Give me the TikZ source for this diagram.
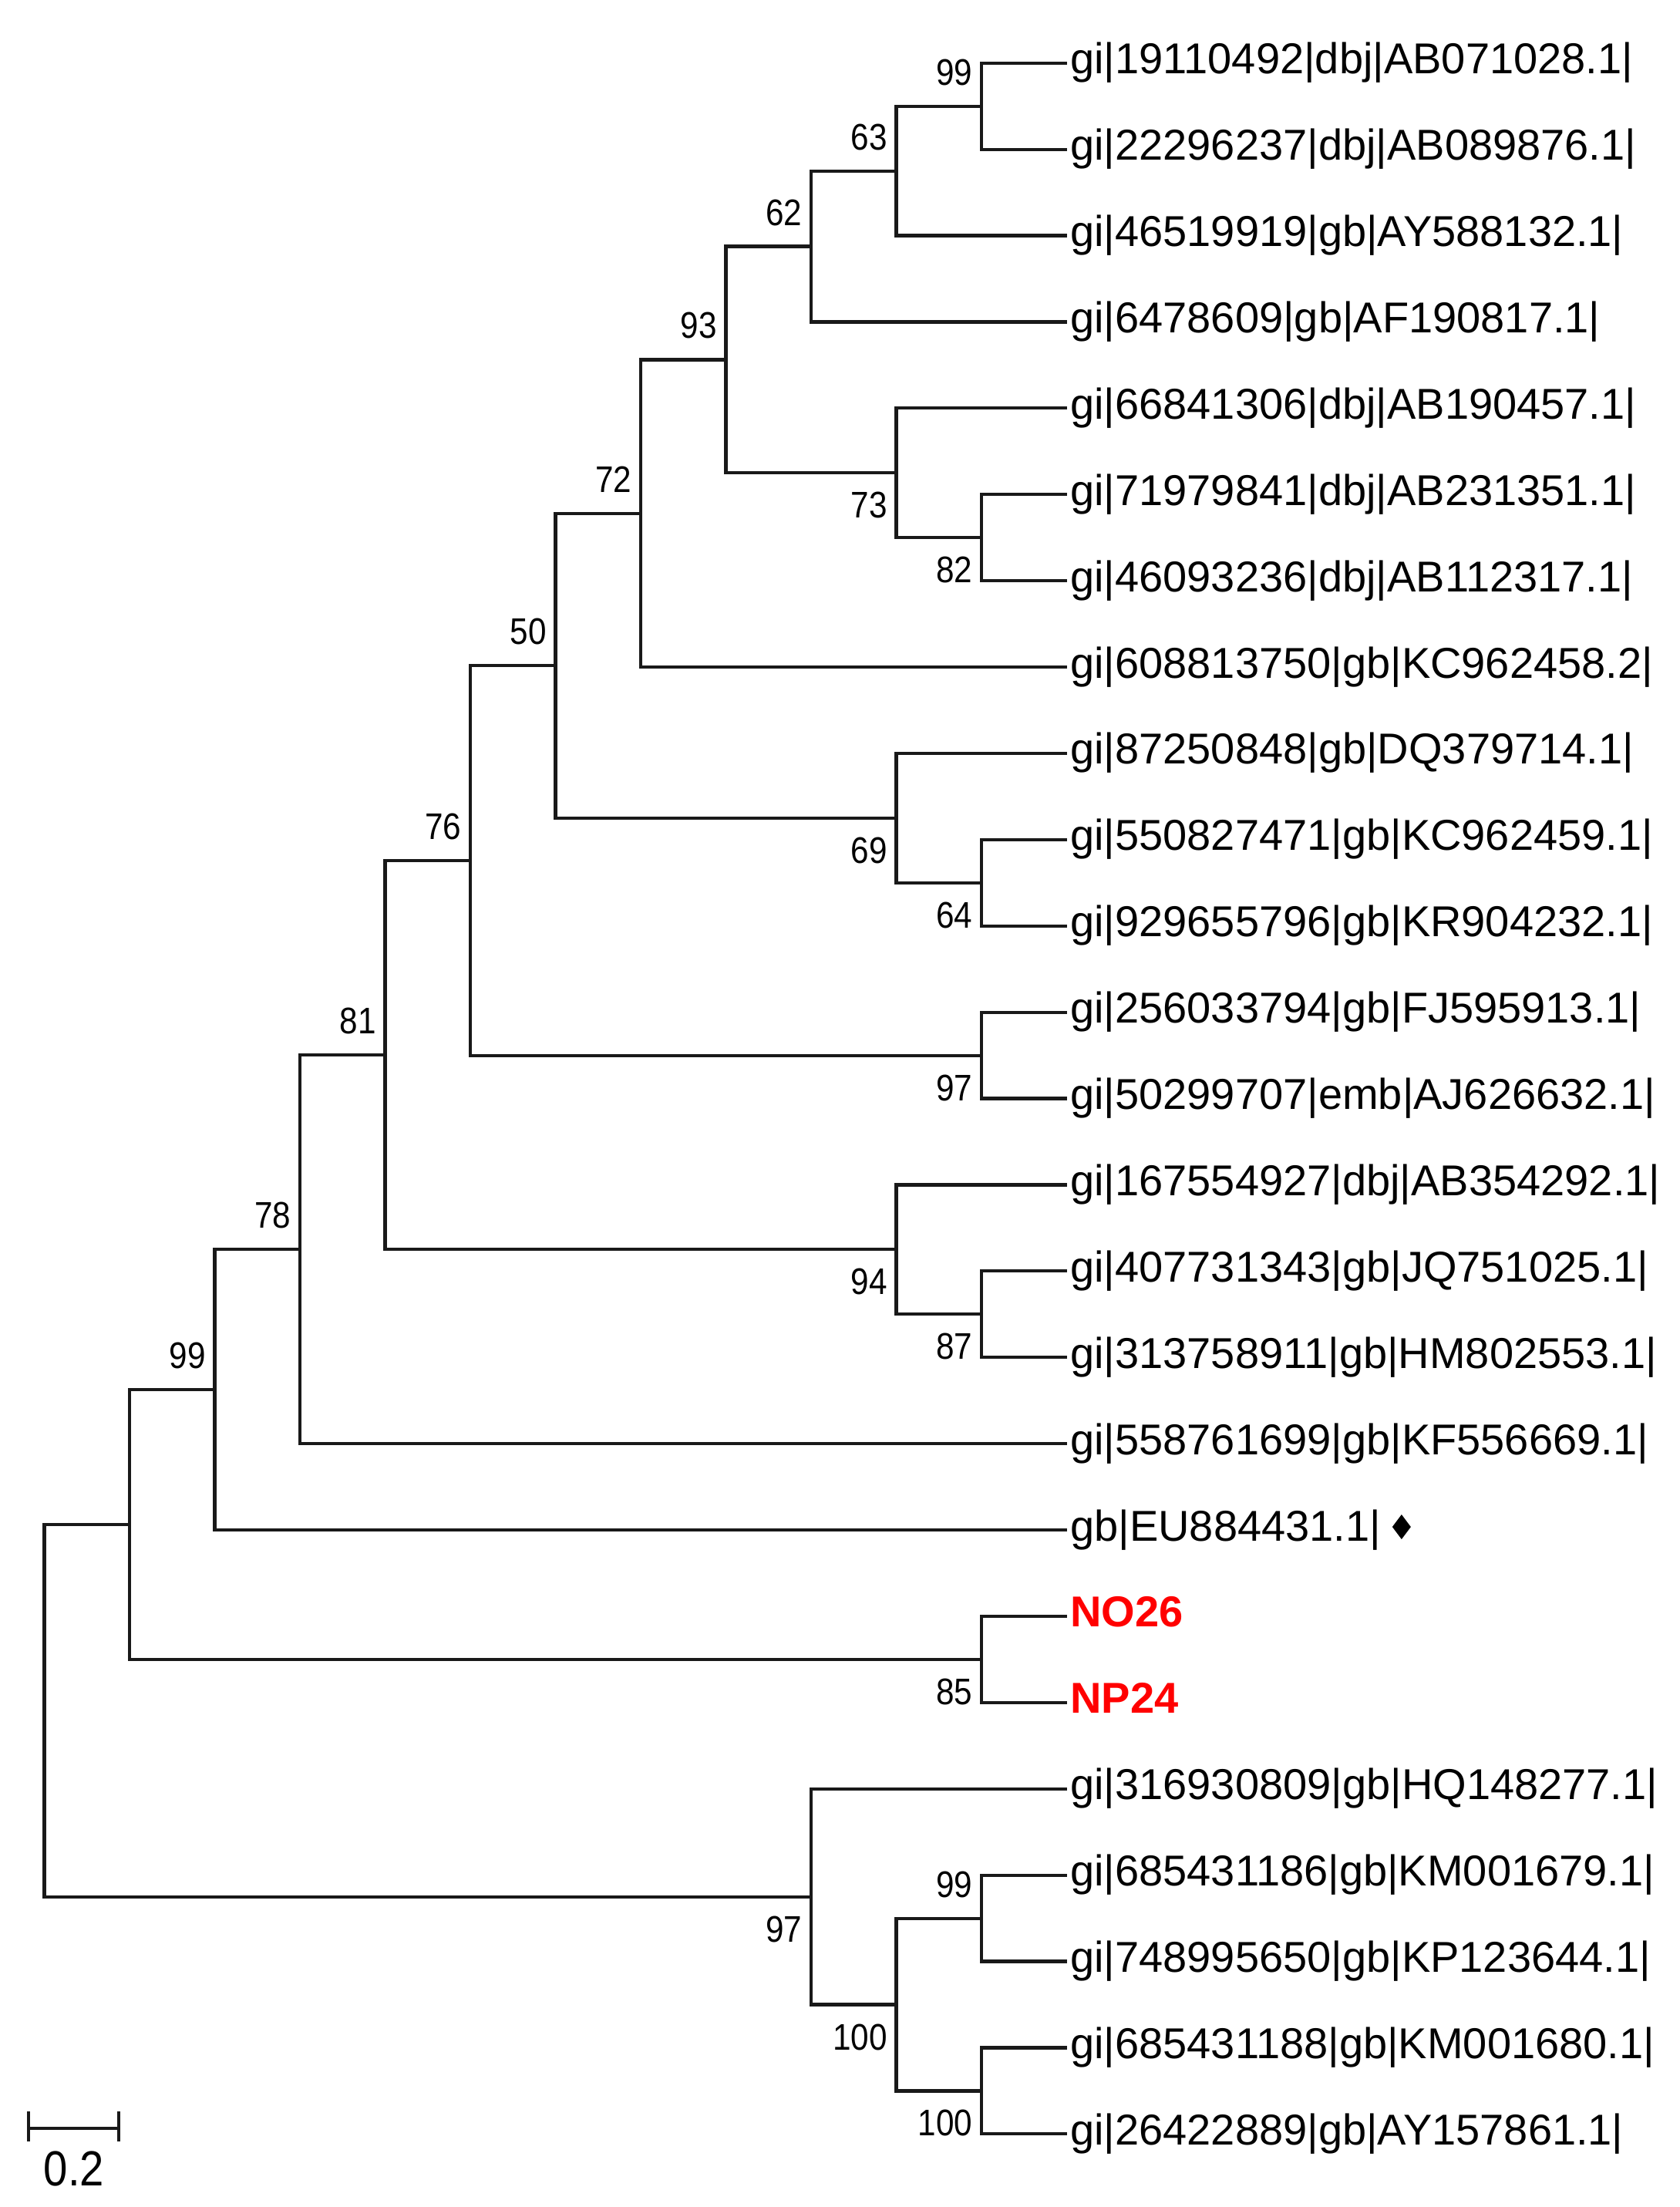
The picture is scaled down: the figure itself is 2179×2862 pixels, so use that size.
\documentclass[tikz,border=0pt]{standalone}
\usepackage{fontspec}
\setmainfont{Liberation Sans}
\newfontfamily\bsfont[FakeStretch=0.88]{Liberation Sans}
\usetikzlibrary{calc}
\definecolor{treered}{RGB}{255,0,0}
\definecolor{treeline}{RGB}{25,25,25}
\newcommand\lx[1]{57.5+110.5*#1}
\newcommand\ly[1]{81.7+111.9*(#1-1)}
\begin{document}
\begin{tikzpicture}[x=0.25pt,y=-0.25pt,
  br/.style={draw=treeline, line width=1.05pt},
  leaf/.style={anchor=base west, inner sep=0pt, font=\fontsize{14}{16}\selectfont},
  redleaf/.style={leaf, text=treered, font=\fontsize{14}{16}\selectfont\bfseries},
  bs/.style={anchor=east, inner sep=0pt, font=\bsfont\fontsize{12}{14}\selectfont},
]
\useasboundingbox (0,0) rectangle (2179,2862);

% leaves
\foreach \i in {1,...,25}{
  \coordinate (L\i) at ({\lx{12}},{\ly{\i}});
}
\foreach \i/\t in {
  1/{gi|19110492|dbj|AB071028.1|},
  2/{gi|22296237|dbj|AB089876.1|},
  3/{gi|46519919|gb|AY588132.1|},
  4/{gi|6478609|gb|AF190817.1|},
  5/{gi|66841306|dbj|AB190457.1|},
  6/{gi|71979841|dbj|AB231351.1|},
  7/{gi|46093236|dbj|AB112317.1|},
  8/{gi|608813750|gb|KC962458.2|},
  9/{gi|87250848|gb|DQ379714.1|},
  10/{gi|550827471|gb|KC962459.1|},
  11/{gi|929655796|gb|KR904232.1|},
  12/{gi|256033794|gb|FJ595913.1|},
  13/{gi|50299707|emb|AJ626632.1|},
  14/{gi|167554927|dbj|AB354292.1|},
  15/{gi|407731343|gb|JQ751025.1|},
  16/{gi|313758911|gb|HM802553.1|},
  17/{gi|558761699|gb|KF556669.1|},
  18/{gb|EU884431.1|},
  21/{gi|316930809|gb|HQ148277.1|},
  22/{gi|685431186|gb|KM001679.1|},
  23/{gi|748995650|gb|KP123644.1|},
  24/{gi|685431188|gb|KM001680.1|},
  25/{gi|26422889|gb|AY157861.1|}}{
  \node[leaf] (T\i) at ($(L\i)+(4,14)$) {\t};
}
\node[redleaf] (T19) at ($(L19)+(4,14)$) {NO26};
\node[redleaf] (T20) at ($(L20)+(4,14)$) {NP24};

% diamond marker
\coordinate (dm) at ($(T18.base east)+(26,-18)$);
\fill[black] (dm) ++(0,-16) -- ++(12,16) -- ++(-12,16) -- ++(-12,-16) -- cycle;

% internal nodes
\coordinate (a)     at ({\lx{11}},137.6);
\coordinate (b)     at ({\lx{10}},221.6);
\coordinate (c)     at ({\lx{9}},319.5);
\coordinate (n82)   at ({\lx{11}},697.2);
\coordinate (n73)   at ({\lx{10}},613.2);
\coordinate (d)     at ({\lx{8}},466.4);
\coordinate (e)     at ({\lx{7}},665.7);
\coordinate (n64)   at ({\lx{11}},1144.8);
\coordinate (n69)   at ({\lx{10}},1060.8);
\coordinate (f)     at ({\lx{6}},863.3);
\coordinate (n97a)  at ({\lx{11}},1368.6);
\coordinate (g)     at ({\lx{5}},1115.9);
\coordinate (n87)   at ({\lx{11}},1704.3);
\coordinate (n94)   at ({\lx{10}},1620.3);
\coordinate (h)     at ({\lx{4}},1368.1);
\coordinate (i)     at ({\lx{3}},1620.1);
\coordinate (j)     at ({\lx{2}},1802.0);
\coordinate (n85)   at ({\lx{11}},2151.9);
\coordinate (k)     at ({\lx{1}},1977.0);
\coordinate (n99b)  at ({\lx{11}},2487.6);
\coordinate (n100b) at ({\lx{11}},2711.4);
\coordinate (n100a) at ({\lx{10}},2599.5);
\coordinate (n97b)  at ({\lx{9}},2459.6);
\coordinate (root)  at ({\lx{0}},2218.0);

% branches
\foreach \p/\u/\w in {a/L1/L2, b/a/L3, c/b/L4, n82/L6/L7, n73/L5/n82, d/c/n73,
  e/d/L8, n64/L10/L11, n69/L9/n64, f/e/n69, n97a/L12/L13, g/f/n97a,
  n87/L15/L16, n94/L14/n87, h/g/n94, i/h/L17, j/i/L18, n85/L19/L20, k/j/n85,
  n99b/L22/L23, n100b/L24/L25, n100a/n99b/n100b, n97b/L21/n100a, root/k/n97b}{
  \draw[br] (\u) -| (\p) |- (\w);
}

% bootstrap values above
\foreach \p/\v in {a/99, b/63, c/62, d/93, e/72, f/50, g/76, h/81, i/78, j/99, n99b/99}{
  \node[bs] (bs-\p) at ($(\p)+(-11,-44)$) {\v};
}
% bootstrap values below
\foreach \p/\v in {n73/73, n82/82, n69/69, n64/64, n97a/97, n94/94, n87/87, n85/85,
  n97b/97, n100a/100, n100b/100}{
  \node[bs] (bs-\p) at ($(\p)+(-11,42)$) {\v};
}

% scale bar
\coordinate (sb1) at (37,2760);
\coordinate (sb2) at (154,2760);
\draw[br] (sb1) -- (sb2);
\draw[br] ($(sb1)+(0,-22)$) -- ($(sb1)+(0,17)$);
\draw[br] ($(sb2)+(0,-22)$) -- ($(sb2)+(0,17)$);
\node[inner sep=0pt, font=\bsfont\fontsize{16}{18}\selectfont] (sbl) at (96,2812) {0.2};
\end{tikzpicture}
\end{document}
